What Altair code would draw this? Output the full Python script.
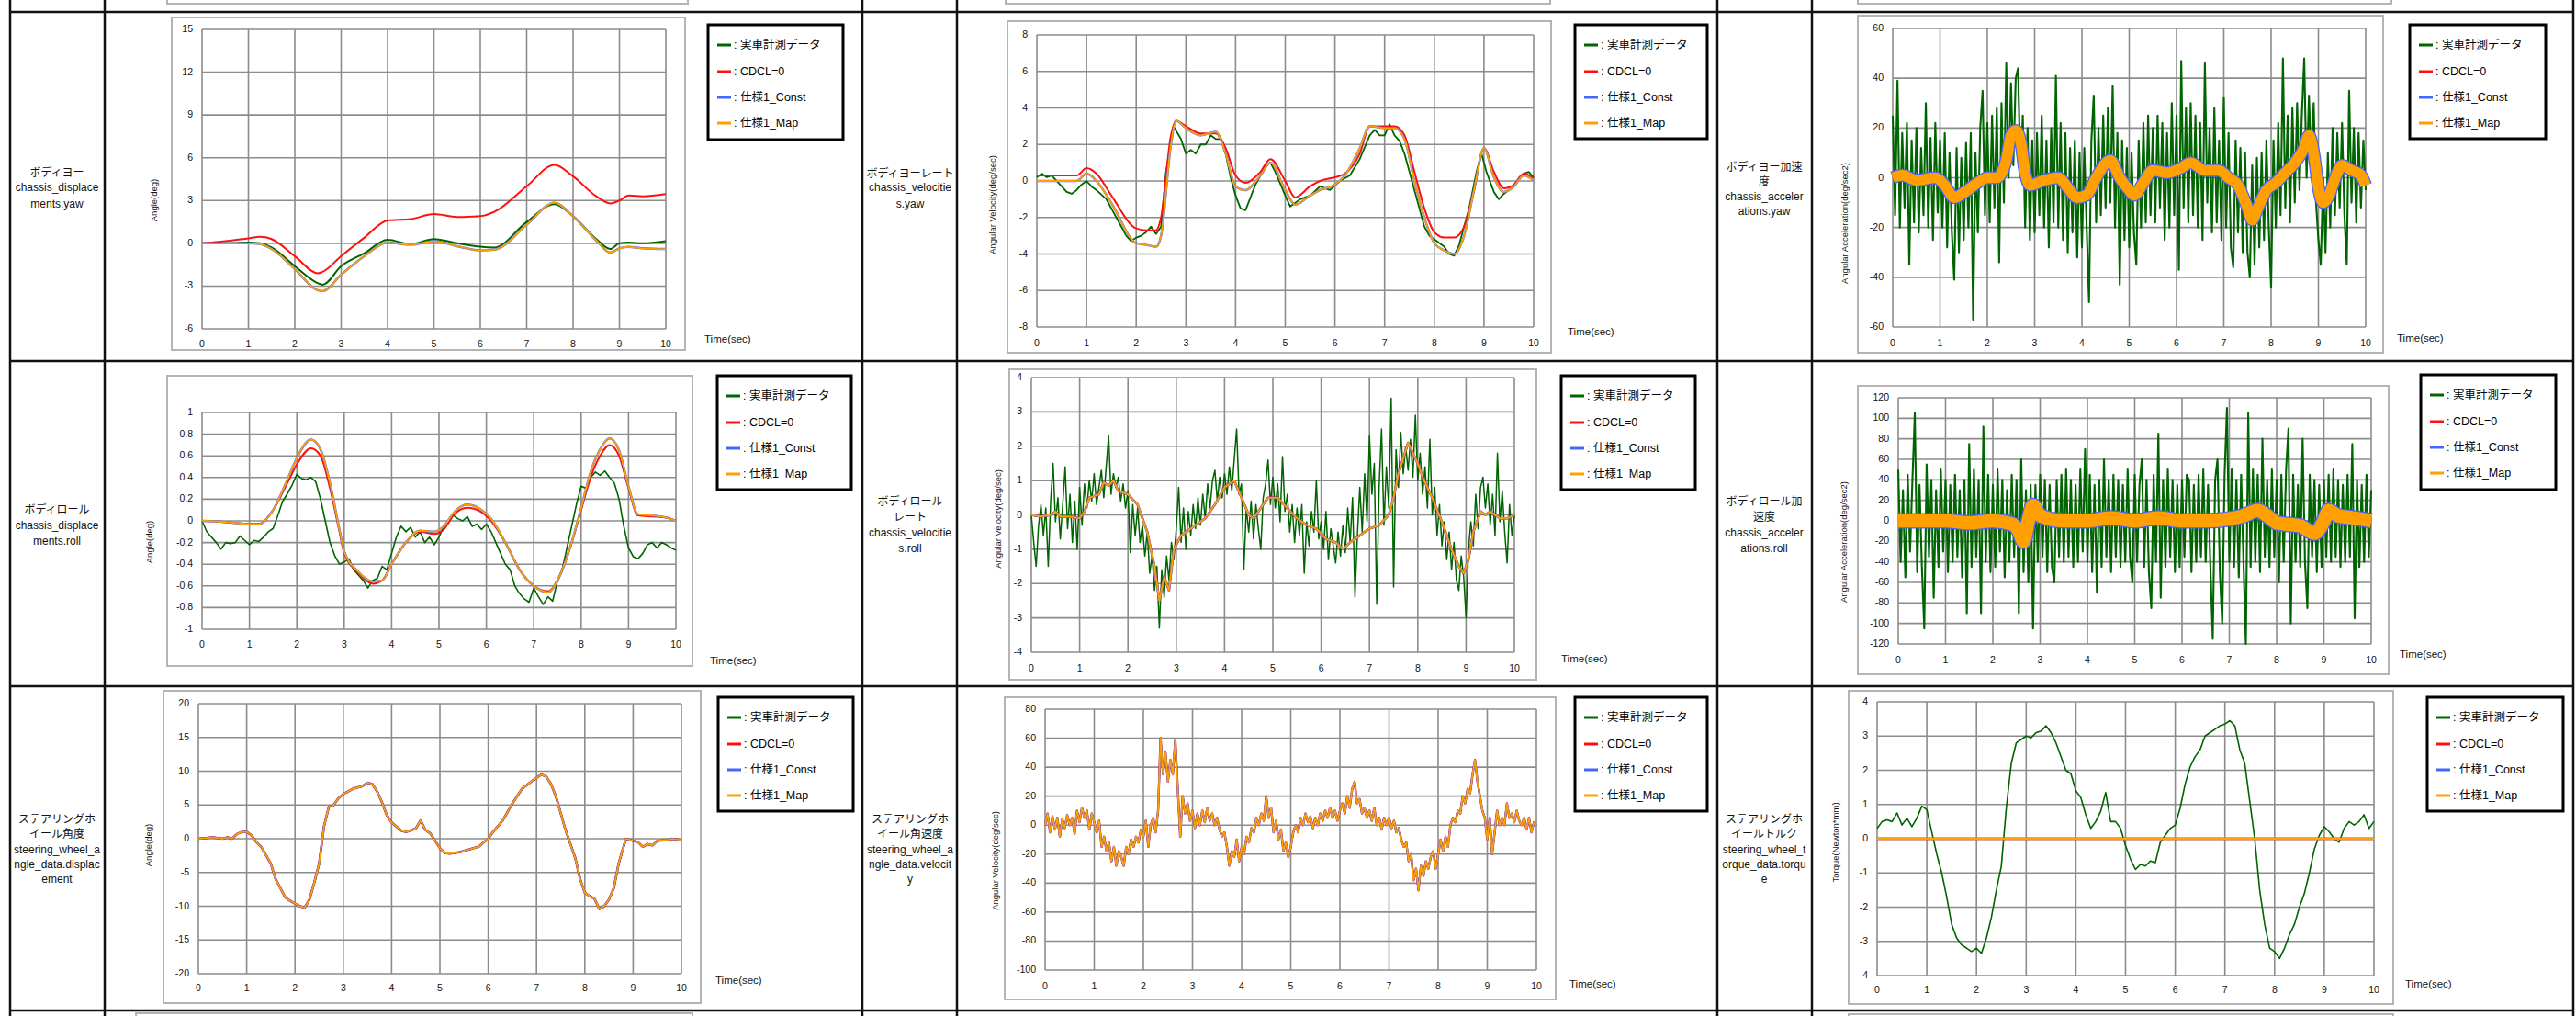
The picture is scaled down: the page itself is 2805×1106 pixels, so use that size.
import altair as alt
import numpy as np
import pandas as pd

# ======================= DATA =======================
X_TICKS = [0, 1, 2, 3, 4, 5, 6, 7, 8, 9, 10]
LEGEND_LABELS = ["実車計測データ", "CDCL=0", "仕様1_Const", "仕様1_Map"]
TIME_LABEL = "Time(sec)"

Y_TICKS = {
    "p11": [-6, -3, 0, 3, 6, 9, 12, 15],
    "p12": [-8, -6, -4, -2, 0, 2, 4, 6, 8],
    "p13": [-60, -40, -20, 0, 20, 40, 60],
    "p21": [-1, -0.8, -0.6, -0.4, -0.2, 0, 0.2, 0.4, 0.6, 0.8, 1],
    "p22": [-4, -3, -2, -1, 0, 1, 2, 3, 4],
    "p23": [-120, -100, -80, -60, -40, -20, 0, 20, 40, 60, 80, 100, 120],
    "p31": [-20, -15, -10, -5, 0, 5, 10, 15, 20],
    "p32": [-100, -80, -60, -40, -20, 0, 20, 40, 60, 80],
    "p33": [-4, -3, -2, -1, 0, 1, 2, 3, 4],
}

Y_TITLES = {
    "p11": "Angle(deg)", "p12": "Angular Velocity(deg/sec)", "p13": "Angular Acceleration(deg/sec2)",
    "p21": "Angle(deg)", "p22": "Angular Velocity(deg/sec)", "p23": "Angular Acceleration(deg/sec2)",
    "p31": "Angle(deg)", "p32": "Angular Velocity(deg/sec)", "p33": "Torque(Newton*mm)",
}

ROW_LABELS = {
    "p11": ["ボディヨー", "chassis_displace", "ments.yaw"],
    "p12": ["ボディヨーレート", "chassis_velocitie", "s.yaw"],
    "p13": ["ボディヨー加速", "度", "chassis_acceler", "ations.yaw"],
    "p21": ["ボディロール", "chassis_displace", "ments.roll"],
    "p22": ["ボディロール", "レート", "chassis_velocitie", "s.roll"],
    "p23": ["ボディロール加", "速度", "chassis_acceler", "ations.roll"],
    "p31": ["ステアリングホ", "イール角度", "steering_wheel_a", "ngle_data.displac", "ement"],
    "p32": ["ステアリングホ", "イール角速度", "steering_wheel_a", "ngle_data.velocit", "y"],
    "p33": ["ステアリングホ", "イールトルク", "steering_wheel_t", "orque_data.torqu", "e"],
}

# --- body yaw angle
T11 = [0, 0.5, 1.0, 1.25, 1.5, 2.0, 2.5, 2.6, 3.0, 3.5, 4.0, 4.5, 5.0, 5.5, 6.0, 6.3, 7.0, 7.6, 8.0, 8.5, 8.8, 9.0, 9.2, 9.5, 10.0]
G11 = [0, 0.0, 0.05, 0.0, -0.3, -1.6, -2.8, -2.9, -1.6, -0.7, 0.25, -0.06, 0.3, 0.0, -0.24, -0.3, 1.5, 2.75, 1.9, 0.3, -0.4, 0.0, 0.05, 0.0, 0.15]
R11 = [0, 0.15, 0.35, 0.45, 0.3, -0.9, -2.1, -2.0, -0.9, 0.4, 1.6, 1.7, 2.05, 1.85, 1.9, 2.2, 4.0, 5.5, 4.7, 3.3, 2.8, 3.0, 3.35, 3.3, 3.45]
O11 = [0, 0.0, 0.0, -0.05, -0.4, -1.8, -3.3, -3.35, -2.2, -0.9, 0.05, -0.1, 0.15, -0.2, -0.5, -0.45, 1.3, 2.85, 1.9, 0.2, -0.65, -0.35, -0.25, -0.35, -0.4]

# --- body yaw rate
T12 = [0, 0.5, 0.8, 1.0, 1.2, 1.5, 2.0, 2.2, 2.4, 2.5, 2.7, 2.8, 3.0, 3.3, 3.6, 3.8, 4.0, 4.2, 4.5, 4.7, 5.0, 5.2,
       5.5, 5.7, 6.0, 6.2, 6.5, 6.7, 7.0, 7.2, 7.4, 7.6, 7.8, 8.0, 8.2, 8.4, 8.6, 8.8, 9.0, 9.2, 9.4, 9.6, 9.8, 10]
R12 = [0.3, 0.3, 0.3, 0.7, 0.4, -0.8, -2.6, -2.7, -2.7, -2.0, 2.5, 3.3, 3.0, 2.6, 2.6, 1.8, 0.3, -0.1, 0.5, 1.2, 0.0, -0.9,
       -0.3, 0.0, 0.2, 0.4, 1.5, 3.0, 3.0, 3.0, 2.5, 0.5, -1.5, -2.8, -3.1, -3.1, -2.5, -0.5, 1.8, 0.5, -0.4, -0.2, 0.4, 0.15]
O12 = [0.0, 0.0, 0.0, 0.4, 0.0, -1.2, -3.4, -3.5, -3.6, -3.0, 2.0, 3.3, 2.9, 2.5, 2.7, 1.5, -0.3, -0.5, 0.3, 1.0, -0.5, -1.3,
       -0.8, -0.5, -0.2, 0.3, 1.8, 3.0, 2.9, 2.9, 2.3, 0.0, -2.0, -3.4, -3.8, -4.0, -3.0, -0.5, 1.8, 0.2, -0.6, -0.3, 0.3, 0.05]
TG12 = [0, 0.1, 0.2, 0.3, 0.5, 0.6, 0.7, 0.8, 0.9, 1.0, 1.1, 1.2, 1.4, 1.6, 1.8, 1.9, 2.0, 2.1, 2.2, 2.3, 2.4, 2.5, 2.6,
        2.75, 2.9, 3.0, 3.1, 3.2, 3.3, 3.4, 3.5, 3.6, 3.7, 3.8, 3.9, 4.0, 4.1, 4.2, 4.4, 4.6, 4.7, 4.8, 5.0, 5.1, 5.3,
        5.5, 5.7, 5.9, 6.1, 6.3, 6.5, 6.7, 6.8, 6.9, 7.0, 7.1, 7.2, 7.3, 7.4, 7.5, 7.6, 7.8, 7.9, 8.0, 8.2, 8.3, 8.4,
        8.5, 8.7, 8.85, 8.95, 9.05, 9.2, 9.3, 9.4, 9.6, 9.8, 9.9, 10]
G12 = [0.2, 0.4, 0.2, 0.3, -0.3, -0.6, -0.7, -0.5, -0.2, 0.0, -0.3, -0.5, -1.0, -2.0, -3.0, -3.3, -3.1, -3.0, -2.8,
       -2.5, -2.9, -2.5, 0.5, 3.0, 2.3, 1.5, 1.7, 1.5, 2.0, 2.0, 2.5, 2.3, 2.3, 1.5, 0.2, -0.8, -1.5, -1.6, -0.2, 0.8,
       1.0, 0.5, -0.8, -1.4, -1.0, -0.8, -0.3, -0.5, 0.0, 0.3, 1.2, 2.5, 2.8, 2.5, 2.5, 3.1, 2.5, 2.2, 1.5, 0.5, -0.5,
       -2.5, -3.0, -3.2, -3.6, -4.0, -4.1, -3.5, -1.5, 0.5, 1.5, 0.5, -0.6, -1.0, -0.7, -0.3, 0.4, 0.5, 0.2]

# --- body yaw acceleration (green sampled every 0.05 s)
G13 = [25, -15, 39, -20, 18, -12, 22, -35, 15, -18,
       20, -22, 12, -15, 30, -20, 16, -25, 22, -14,
       15, -20, 18, -28, 10, -22, -41, 12, -30, 8,
       -25, 14, -20, 18, -57, 10, -22, 20, 35, -15,
       22, -18, 25, -12, 28, -34, 30, -10, 46, 0,
       38, 5, 40, 44, 2, 25, -20, 20, -25, 15,
       -22, 18, -15, 25, -20, 15, -28, 20, -18, 41,
       -20, 22, -25, 18, -30, 12, -22, 15, -32, 10,
       -28, 12, -20, -50, 15, 33, -18, 20, -15, 25,
       -12, 28, -10, 37, -20, 18, -43, 15, -25, 12,
       -28, 10, -22, -35, 15, -20, 22, -18, 25, -15,
       20, -18, 25, -12, 22, -25, 18, -20, 30, -15,
       25, -37, 47, -12, 28, -18, 30, -15, 25, -20,
       22, -25, 46, -10, 20, -22, 28, -18, 15, -25,
       32, -20, 18, -28, -36, 15, -22, 12, -30, 10,
       -30, -40, 5, -35, 8, -28, 10, -25, 15, -20,
       -44, 15, -20, 22, -15, 48, -12, 25, -18, 28,
       -10, 30, -5, 25, 48, 0, 33, 5, 30, -10,
       -25, -35, 0, -30, 10, -20, 20, -15, 18, -12,
       22, -15, -35, 35, -10, 20, -18, 18, -12, 15, -5]
T13 = [0, 0.2, 0.5, 0.9, 1.1, 1.3, 1.5, 1.8, 2.0, 2.2, 2.4, 2.5, 2.6, 2.7, 2.8, 2.9, 3.2, 3.5, 3.7, 3.9, 4.1, 4.3,
       4.6, 4.8, 5.0, 5.1, 5.3, 5.5, 5.8, 6.1, 6.3, 6.6, 6.9, 7.1, 7.3, 7.5, 7.6, 7.7, 7.9, 8.1, 8.3, 8.5, 8.7, 8.8,
       8.9, 9.0, 9.1, 9.2, 9.4, 9.5, 9.7, 9.9, 10]
O13 = [0, 1, -1, 0, -3, -8, -6, -2, 0, 0, 7, 17, 19, 15, 2, -3, -1, 0, -4, -8, -7, 0, 7, 0, -5, -7, -2, 3, 2, 4,
       6, 3, 3, 0, -3, -12, -17, -13, -5, -2, 2, 6, 12, 17, 10, -4, -10, -8, 2, 5, 3, 1, -3]

# --- body roll angle
T21 = [0, 0.5, 1.0, 1.2, 1.5, 1.8, 2.0, 2.3, 2.5, 2.7, 2.9, 3.0, 3.3, 3.6, 3.8, 4.0, 4.3, 4.6, 4.9, 5.1, 5.3, 5.6,
       5.9, 6.1, 6.4, 6.7, 7.0, 7.3, 7.5, 7.8, 8.0, 8.2, 8.4, 8.6, 8.8, 9.0, 9.2, 9.5, 9.8, 10]
R21 = [0, -0.01, -0.03, -0.03, 0.1, 0.35, 0.52, 0.67, 0.6, 0.3, -0.1, -0.3, -0.48, -0.58, -0.55, -0.4, -0.2, -0.1,
       -0.12, -0.08, 0.05, 0.12, 0.08, 0.0, -0.2, -0.45, -0.6, -0.65, -0.55, -0.2, 0.1, 0.4, 0.6, 0.7, 0.6, 0.3,
       0.05, 0.04, 0.03, 0.0]
O21 = [0, -0.01, -0.03, -0.03, 0.1, 0.38, 0.58, 0.75, 0.66, 0.35, -0.08, -0.28, -0.47, -0.56, -0.55, -0.4, -0.2,
       -0.09, -0.1, -0.05, 0.07, 0.15, 0.1, 0.02, -0.2, -0.45, -0.6, -0.66, -0.55, -0.2, 0.12, 0.45, 0.66, 0.76,
       0.65, 0.32, 0.06, 0.05, 0.03, 0.0]
G21 = [0, -0.1, -0.15, -0.2, -0.26, -0.2, -0.21, -0.2, -0.14, -0.18,
       -0.22, -0.18, -0.19, -0.15, -0.1, -0.07, 0.05, 0.18, 0.25, 0.33,
       0.43, 0.39, 0.38, 0.4, 0.36, 0.2, 0.0, -0.2, -0.32, -0.4,
       -0.38, -0.35, -0.45, -0.5, -0.55, -0.62, -0.55, -0.53, -0.42, -0.45,
       -0.3, -0.15, -0.05, -0.1, -0.06, -0.15, -0.1, -0.2, -0.15, -0.22,
       -0.15, -0.05, -0.02, 0.05, 0.02, 0.0, 0.04, -0.05, -0.03, -0.08,
       -0.03, -0.1, -0.2, -0.3, -0.4, -0.45, -0.6, -0.67, -0.72, -0.75,
       -0.62, -0.7, -0.77, -0.7, -0.74, -0.55, -0.45, -0.25, -0.05, 0.15,
       0.32, 0.3, 0.4, 0.45, 0.42, 0.46, 0.4, 0.35, 0.2, -0.05,
       -0.25, -0.33, -0.35, -0.3, -0.22, -0.2, -0.25, -0.2, -0.22, -0.25, -0.27]

# --- body roll rate
T22 = [0, 0.2, 0.4, 0.5, 0.6, 0.8, 1.0, 1.1, 1.2, 1.4, 1.5, 1.6, 1.7, 1.8, 2.0, 2.2, 2.4, 2.55, 2.65, 2.75, 2.85,
       2.95, 3.1, 3.3, 3.5, 3.6, 3.8, 4.0, 4.2, 4.35, 4.5, 4.6, 4.75, 4.9, 5.1, 5.3, 5.5, 5.7, 5.9, 6.1, 6.3, 6.45,
       6.6, 6.8, 7.0, 7.2, 7.4, 7.5, 7.6, 7.8, 7.9, 8.0, 8.1, 8.3, 8.5, 8.7, 8.85, 8.95, 9.05, 9.15, 9.3, 9.4, 9.5,
       9.7, 9.85, 10]
O22 = [0, -0.05, 0.0, 0.1, -0.05, -0.05, -0.1, 0.1, 0.5, 0.6, 0.95, 0.85, 1.0, 0.7, 0.6, 0.3, -0.5, -1.5, -2.5,
       -1.8, -2.2, -1.0, -0.6, -0.4, -0.2, -0.1, 0.3, 0.8, 1.0, 0.5, 0.0, -0.1, 0.2, 0.5, 0.5, 0.2, -0.1, -0.3,
       -0.4, -0.7, -0.8, -1.0, -0.8, -0.6, -0.4, -0.3, 0.0, 0.5, 1.2, 2.1, 1.8, 1.5, 1.1, 0.5, -0.2, -1.0, -1.5,
       -1.7, -1.3, -0.5, 0.1, 0.0, 0.1, -0.1, -0.1, 0.0]
G22 = [0.0, -0.8, -1.5, -0.3, 0.3, -0.6, 0.2, -1.5, 0.4, 1.5,
       -0.2, 0.5, -0.7, 0.3, 1.4, -0.4, 0.6, -0.8, 0.4, -1.0,
       0.8, -0.3, 0.9, 0.2, 1.0, 0.4, 1.2, 0.3, 0.8, 1.3,
       0.5, 1.4, 2.3, 0.6, 1.2, 0.8, 1.1, 0.4, 0.9, 0.2,
       0.7, -1.1, 0.3, -0.6, 0.2, -0.8, -0.3, -1.2, -0.5, -1.7,
       -1.2, -2.2, -1.5, -3.3, -1.6, -2.4, -1.2, -1.9, -0.8, -1.3,
       -0.4, 0.8, -0.8, 0.2, -1.0, 0.1, -0.6, 0.3, -0.4, 0.5,
       -0.3, 0.6, -0.1, 0.9, 0.2, 1.0, 1.3, 0.4, 1.1, 0.5,
       1.2, 0.6, 1.4, 0.7, 1.6, 2.5, 0.6, 0.9, -1.6, 0.2,
       -0.5, 0.4, -0.7, 0.3, -0.4, -1.0, 0.5, 0.9, 1.6, 0.3,
       1.1, 0.2, 0.9, -0.2, 1.7, 0.1, 0.6, -0.5, 0.3, -0.8,
       0.2, -0.6, 0.3, -1.7, -0.2, -0.9, 0.1, -0.5, 1.0, -0.7,
       -0.2, -1.0, 0.1, -1.3, -0.4, -0.9, -1.4, -0.5, -1.2, -0.3,
       -1.1, 0.2, -0.8, 0.5, -2.4, -0.6, 0.8, -0.5, 1.2, -0.2,
       2.3, 0.6, 1.5, -2.6, 0.8, 2.5, -0.3, 1.4, 0.2, 3.4,
       -2.1, 1.9, 0.8, 2.4, 1.2, 2.0, 1.3, 2.2, 1.1, 2.9,
       1.0, 1.8, 0.6, 1.4, 0.2, 2.2, 0.0, 0.8, -0.6, 0.3,
       -0.9, -0.2, -1.3, -0.5, -1.6, -0.8, -1.9, -2.2, -1.2, -1.8,
       -3.0, -1.0, -0.2, -0.9, 0.6, -0.4, 0.8, 1.1, 0.2, 0.9,
       -0.3, 0.6, -0.6, 1.8, -0.2, 0.7, -0.5, -1.4, 0.3, -0.6, 0.0]

# --- body roll acceleration (green sampled every 0.05 s)
G23 = [50, -40, 30, -55, 45, -30, 40, 105, -50, 35,
       -45, -105, 55, -35, 40, -75, 30, -45, 50, -30,
       40, -50, 35, -40, 45, -35, 30, -55, 40, -90,
       75, -45, 50, -35, 40, -90, 92, -40, 45, -50,
       35, -45, 50, -30, 40, -55, 30, -40, 45, -35,
       40, -90, 60, -50, 30, -60, 35, -105, 35, -40,
       45, -35, 40, -50, 35, -45, -60, 40, -35, 45,
       -40, 50, -35, 40, -45, 35, -40, 50, -30, 70,
       -40, 45, -50, 35, -70, 40, -45, 60, -35, 40,
       -50, 45, -35, 40, -45, 35, -40, 50, -35, -60,
       45, -40, 35, 60, -45, 40, -50, -85, 45, -40,
       85, -75, 40, -45, 50, -35, 40, -50, 35, -45,
       40, -35, 45, 40, -50, 35, -40, 45, -35, 50,
       -40, 35, -45, -115, 40, 60, -50, -100, 45, 110,
       -40, 50, -45, 40, -55, 45, -40, -120, 105, -45,
       50, -40, 45, -50, 80, -35, 40, -45, 50, -35,
       40, -60, 45, -40, 50, 90, -100, 45, -40, 35,
       -45, 80, -40, -85, 45, -35, 40, -50, 35, -45,
       40, -35, 45, -40, 50, -35, 40, -45, 35, -40,
       45, -35, 75, -95, 40, -45, 35, -40, 45, -35, 30]
T23 = [0, 0.5, 1.0, 1.5, 2.0, 2.4, 2.55, 2.65, 2.75, 2.85, 3.0, 3.5, 4.0, 4.5, 5.0, 5.5, 6.0, 6.5, 7.0, 7.3, 7.6,
       7.8, 8.0, 8.5, 8.8, 9.0, 9.1, 9.3, 9.6, 10]
O23 = [0, 0, 0, -2, 0, -3, -10, -20, 0, 15, 5, 0, 0, 3, 0, 3, 0, 0, 2, 5, 10, 5, -2, -5, -12, 0, 10, 5, 3, 0]

# --- steering wheel angle (all four runs coincide)
T31 = [0, 0.3, 0.5, 0.6, 0.7, 0.8, 0.9, 1.0, 1.1, 1.2, 1.3, 1.5, 1.6, 1.8, 1.9, 2.0, 2.1, 2.2, 2.3, 2.4, 2.5, 2.6,
       2.7, 2.8, 2.9, 3.0, 3.2, 3.4, 3.5, 3.6, 3.7, 3.8, 3.9, 4.0, 4.2, 4.3, 4.5, 4.6, 4.7, 4.8, 5.0, 5.1, 5.2, 5.4,
       5.6, 5.8, 6.0, 6.1, 6.3, 6.5, 6.7, 6.9, 7.1, 7.2, 7.3, 7.4, 7.6, 7.8, 7.9, 8.0, 8.1, 8.2, 8.3, 8.4, 8.5, 8.6,
       8.7, 8.85, 9.0, 9.1, 9.2, 9.3, 9.4, 9.5, 9.7, 9.8, 10]
V31 = [0, 0.2, 0.0, 0.2, 0.0, 0.7, 1.0, 1.0, 0.5, -0.5, -1.2, -3.7, -6.0, -8.7, -9.2, -9.6, -10.0, -10.2, -9.0,
       -6.5, -3.7, 1.8, 4.7, 5.0, 6.0, 6.6, 7.4, 7.8, 8.3, 8.1, 7.0, 5.4, 3.5, 2.4, 1.2, 1.0, 1.5, 2.7, 1.3, 0.8,
       -1.4, -2.1, -2.2, -2.0, -1.6, -1.2, 0.0, 1.0, 2.7, 5.2, 7.4, 8.5, 9.5, 9.2, 8.1, 6.3, 1.3, -2.8, -5.9, -8.0,
       -8.5, -8.9, -10.4, -10.0, -9.0, -7.3, -3.7, 0.0, -0.3, -0.5, -1.2, -0.8, -1.0, -0.3, -0.2, 0.0, -0.2]

# --- steering wheel angular velocity (sampled every 0.05 s; all runs coincide)
O32 = [0, 8, -5, 6, -3, 5, -8, 4, -2, 7,
       0, 5, -6, 10, 2, 12, 5, 10, -3, 8,
       2, -5, 3, -15, -8, -18, -12, -25, -15, -28,
       -18, -22, -28, -15, -20, -10, -15, -8, -12, -3,
       -8, 3, -15, 0, 5, -5, 10, 60, 35, 50,
       30, 45, 35, 59, 25, -8, 20, 8, 15, 3,
       10, -2, 8, 0, 10, 2, 12, 3, 8, 0,
       5, -3, -8, -5, -15, -28, -18, -22, -10, -25,
       -15, -20, -8, -12, -2, -5, 5, 0, 8, 3,
       20, 5, 12, -5, 3, -10, -3, -18, -12, -22,
       -15, -5, 0, -5, 5, 0, 8, 2, 6, -2,
       5, 0, 8, 3, 10, 5, 12, 5, 10, 3,
       10, 15, 8, 20, 12, 25, 30, 15, 18, 8,
       12, 5, 10, 3, 12, 0, 5, -3, 5, 0,
       5, -2, 3, -5, -2, -10, -15, -12, -25, -20,
       -38, -30, -45, -28, -35, -25, -30, -22, -18, -30,
       -20, -10, -18, -8, -15, 0, 5, 2, 10, 8,
       20, 15, 25, 22, 35, 45, 30, 20, 10, 5,
       -10, 5, -20, -5, 10, 0, 5, 0, 15, 5,
       8, 2, 10, 3, 0, 5, -3, 5, -5, 2, 0]

# --- steering wheel torque (green sampled every 0.1 s); simulations stay at 0
G33 = [0.3, 0.5, 0.55, 0.5, 0.75, 0.4, 0.6, 0.35, 0.6, 0.95,
       0.85, 0.2, -0.45, -1.0, -1.7, -2.5, -2.9, -3.1, -3.2, -3.3,
       -3.2, -3.35, -2.9, -2.3, -1.5, -0.8, 0.9, 2.2, 2.8, 2.9,
       3.0, 2.95, 3.1, 3.15, 3.3, 3.1, 2.8, 2.4, 2.0, 1.9,
       1.4, 1.2, 0.7, 0.3, 0.5, 0.8, 1.35, 0.5, 0.5, 0.3,
       -0.2, -0.6, -0.9, -0.75, -0.8, -0.65, -0.7, -0.1, 0.1, 0.3,
       0.4, 0.9, 1.6, 2.1, 2.4, 2.6, 3.0, 3.1, 3.2, 3.3,
       3.35, 3.45, 3.3, 2.6, 2.2, 1.1, 0.0, -1.5, -2.5, -3.2,
       -3.3, -3.5, -3.2, -2.8, -2.5, -2.0, -1.6, -1.0, -0.3, 0.1,
       0.35, 0.2, 0.0, -0.1, 0.3, 0.5, 0.4, 0.5, 0.7, 0.3, 0.5]
T33_FLAT = [0, 10]
V33_FLAT = [0, 0]

# ======================= STYLE / LAYOUT =======================
COLORS = ["#006400", "#ff1010", "#4466ff", "#ffa000"]   # green, red, blue, orange
GRID = "#8c8c8c"
FRAME = "#b4b4b4"
FONT_NUM = "'Liberation Sans', Arial, sans-serif"
FONT_JP = "'Liberation Sans', 'Noto Sans CJK JP', sans-serif"

LAYOUT = {
    "p11": dict(plot=(220, 725, 32, 358), dom=(-6, 15), frame=(187, 19, 746, 381), legend=(771, 27, 918, 152),
                xlab_y=375, ytitle=(168, 218), time=(767, 370), rl_x=62, rl_y=[188, 204, 222]),
    "p12": dict(plot=(1129, 1670, 38, 356), dom=(-8, 8), frame=(1097, 23, 1689, 384), legend=(1715, 27, 1859, 151),
                xlab_y=374, ytitle=(1081, 223), time=(1707, 362), rl_x=991, rl_y=[189, 204, 222]),
    "p13": dict(plot=(2061, 2576, 31, 356), dom=(-60, 60), frame=(2023, 17, 2595, 384), legend=(2624, 27, 2772, 151),
                xlab_y=374, ytitle=(2009, 243), time=(2610, 369), rl_x=1921, rl_y=[182, 198, 214, 230]),
    "p21": dict(plot=(220, 736, 449, 685), dom=(-1, 1), frame=(182, 409, 754, 725), legend=(781, 409, 927, 533),
                xlab_y=702, ytitle=(163, 590), time=(773, 720), rl_x=62, rl_y=[555, 572, 589]),
    "p22": dict(plot=(1123, 1649, 411, 710), dom=(-4, 4), frame=(1099, 402, 1673, 740), legend=(1700, 409, 1846, 533),
                xlab_y=728, ytitle=(1087, 565), time=(1700, 718), rl_x=991, rl_y=[546, 563, 580, 597]),
    "p23": dict(plot=(2067, 2582, 433, 701), dom=(-120, 120), frame=(2023, 420, 2601, 734), legend=(2636, 408, 2783, 533),
                xlab_y=719, ytitle=(2008, 590), time=(2613, 713), rl_x=1921, rl_y=[546, 563, 580, 597]),
    "p31": dict(plot=(216, 742, 766, 1060), dom=(-20, 20), frame=(178, 752, 763, 1092), legend=(782, 759, 929, 883),
                xlab_y=1076, ytitle=(162, 920), time=(779, 1068), rl_x=62, rl_y=[892, 908, 925, 941, 957]),
    "p32": dict(plot=(1138, 1673, 772, 1056), dom=(-100, 80), frame=(1094, 759, 1694, 1088), legend=(1715, 759, 1859, 883),
                xlab_y=1074, ytitle=(1084, 937), time=(1709, 1072), rl_x=991, rl_y=[892, 908, 925, 941, 957]),
    "p33": dict(plot=(2044, 2585, 764, 1062), dom=(-4, 4), frame=(2013, 752, 2606, 1093), legend=(2643, 759, 2791, 883),
                xlab_y=1078, ytitle=(1999, 917), time=(2619, 1072), rl_x=1921, rl_y=[892, 908, 925, 941, 957]),
}


def dense(v):
    return list(np.linspace(0, 10, len(v))), v


# series: (colour index, t, v, stroke width, interpolate)
SERIES = {
    "p11": [(0, T11, G11, 2, "monotone"), (1, T11, R11, 2, "monotone"), (2, T11, O11, 2.4, "monotone"), (3, T11, O11, 1.8, "monotone")],
    "p12": [(0, TG12, G12, 1.8, "linear"), (1, T12, R12, 2, "monotone"), (2, T12, O12, 2.4, "monotone"), (3, T12, O12, 1.8, "monotone")],
    "p13": [(0, *dense(G13), 2.1, "linear"), (1, T13, O13, 13, "monotone"), (2, T13, O13, 14, "monotone"), (3, T13, O13, 11.5, "monotone")],
    "p21": [(0, list(np.linspace(0, 10, len(G21))), G21, 1.6, "linear"), (1, T21, R21, 2, "monotone"), (2, T21, O21, 2.4, "monotone"), (3, T21, O21, 1.8, "monotone")],
    "p22": [(0, *dense(G22), 1.5, "linear"), (1, T22, O22, 2.6, "linear"), (2, T22, O22, 2.3, "linear"), (3, T22, O22, 1.8, "linear")],
    "p23": [(0, *dense(G23), 2.1, "linear"), (1, T23, O23, 16, "monotone"), (2, T23, O23, 17, "monotone"), (3, T23, O23, 14.5, "monotone")],
    "p31": [(0, T31, V31, 2, "linear"), (1, T31, V31, 2.6, "linear"), (2, T31, V31, 2.2, "linear"), (3, T31, V31, 1.7, "linear")],
    "p32": [(0, *dense(O32), 1.5, "linear"), (1, *dense(O32), 2.4, "linear"), (2, *dense(O32), 2.1, "linear"), (3, *dense(O32), 1.7, "linear")],
    "p33": [(0, list(np.linspace(0, 10, len(G33))), G33, 1.6, "linear"), (1, T33_FLAT, V33_FLAT, 2.5, "linear"),
            (2, T33_FLAT, V33_FLAT, 2.5, "linear"), (3, T33_FLAT, V33_FLAT, 2.5, "linear")],
}


def fmt(v):
    r = round(float(v), 1)
    if abs(r - round(r)) < 1e-9:
        return str(int(round(r)))
    return f"{r:.1f}"


def sdf(t, v):
    n = min(len(t), len(v))
    return pd.DataFrame({"t": [float(a) for a in t[:n]], "v": [float(b) for b in v[:n]]})


layers = []

# ---- background frames (outer chart boxes and partial neighbours) ----
frames = [LAYOUT[k]["frame"] for k in LAYOUT]
frames += [(182, -10, 749, 4), (1095, -10, 1688, 4), (2023, -10, 2604, 4),
           (148, 1103, 754, 1120), (2013, 1104, 2606, 1120)]
fr_df = pd.DataFrame(frames, columns=["x", "y", "x2", "y2"])
layers.append(alt.Chart(fr_df).mark_rect(fill="white", stroke=FRAME, strokeWidth=2).encode(
    x=alt.X("x:Q", scale=None, axis=None), x2="x2:Q",
    y=alt.Y("y:Q", scale=None, axis=None), y2="y2:Q"))

# ---- table lines ----
tl = []
for yy in [13, 393, 747, 1100]:
    tl.append((11, yy, 2802, yy))
for xx in [11, 114, 939, 1042, 1870, 1973, 2802]:
    tl.append((xx, 0, xx, 1106))
tl_df = pd.DataFrame(tl, columns=["x", "y", "x2", "y2"])
layers.append(alt.Chart(tl_df).mark_rule(color="#111111", strokeWidth=2.5).encode(
    x=alt.X("x:Q", scale=None, axis=None), x2="x2:Q",
    y=alt.Y("y:Q", scale=None, axis=None), y2="y2:Q"))

# ---- panels ----
for key, lay in LAYOUT.items():
    x0, x1, yt, yb = lay["plot"]
    ymin, ymax = lay["dom"]
    xsc = alt.Scale(domain=[0, 10], range=[x0, x1], nice=False, zero=False)
    ysc = alt.Scale(domain=[ymin, ymax], range=[yb, yt], nice=False, zero=False)

    xt = pd.DataFrame({"t": X_TICKS, "lab": [fmt(v) for v in X_TICKS]})
    yt_df = pd.DataFrame({"v": Y_TICKS[key], "lab": [fmt(v) for v in Y_TICKS[key]]})

    layers.append(alt.Chart(xt).mark_rule(color=GRID, strokeWidth=1.6).encode(
        x=alt.X("t:Q", scale=xsc, axis=None), y=alt.value(yt), y2=alt.value(yb)))
    layers.append(alt.Chart(yt_df).mark_rule(color=GRID, strokeWidth=1.6).encode(
        y=alt.Y("v:Q", scale=ysc, axis=None), x=alt.value(x0), x2=alt.value(x1)))

    for ci, t, v, w, interp in SERIES[key]:
        layers.append(alt.Chart(sdf(t, v)).mark_line(
            color=COLORS[ci], strokeWidth=w, interpolate=interp, strokeJoin="round", strokeCap="butt").encode(
            x=alt.X("t:Q", scale=xsc, axis=None), y=alt.Y("v:Q", scale=ysc, axis=None), order="t:Q"))

    layers.append(alt.Chart(xt).mark_text(font=FONT_NUM, fontSize=10.5, color="#111", align="center",
                                          baseline="middle").encode(
        x=alt.X("t:Q", scale=xsc, axis=None), y=alt.value(lay["xlab_y"]), text="lab:N"))
    layers.append(alt.Chart(yt_df).mark_text(font=FONT_NUM, fontSize=10.5, color="#111", align="right",
                                             baseline="middle").encode(
        y=alt.Y("v:Q", scale=ysc, axis=None), x=alt.value(x0 - 10), text="lab:N"))

# ---- legends ----
OFFS = [22, 51, 79, 107]
lb = pd.DataFrame([LAYOUT[k]["legend"] for k in LAYOUT], columns=["x", "y", "x2", "y2"])
layers.append(alt.Chart(lb).mark_rect(fill="white", stroke="#000000", strokeWidth=3).encode(
    x=alt.X("x:Q", scale=None, axis=None), x2="x2:Q",
    y=alt.Y("y:Q", scale=None, axis=None), y2="y2:Q"))
sym, txt = [], []
for k in LAYOUT:
    lx, ly, _, _ = LAYOUT[k]["legend"]
    for i, lab in enumerate(LEGEND_LABELS):
        sym.append(dict(x=lx + 10, x2=lx + 25, y=ly + OFFS[i], c=COLORS[i]))
        txt.append(dict(px=lx + 28, py=ly + OFFS[i], txt=": " + lab))
layers.append(alt.Chart(pd.DataFrame(sym)).mark_rule(strokeWidth=3).encode(
    x=alt.X("x:Q", scale=None, axis=None), x2="x2:Q",
    y=alt.Y("y:Q", scale=None, axis=None), color=alt.Color("c:N", scale=None)))
layers.append(alt.Chart(pd.DataFrame(txt)).mark_text(font=FONT_JP, fontSize=12.5, color="#000", align="left",
                                                     baseline="middle").encode(
    x=alt.X("px:Q", scale=None, axis=None), y=alt.Y("py:Q", scale=None, axis=None), text="txt:N"))

# ---- axis titles ----
yt_rows = [dict(px=LAYOUT[k]["ytitle"][0], py=LAYOUT[k]["ytitle"][1], txt=Y_TITLES[k]) for k in LAYOUT]
layers.append(alt.Chart(pd.DataFrame(yt_rows)).mark_text(font=FONT_NUM, fontSize=9.5, color="#111", angle=270,
                                                         align="center", baseline="middle").encode(
    x=alt.X("px:Q", scale=None, axis=None), y=alt.Y("py:Q", scale=None, axis=None), text="txt:N"))
tm_rows = [dict(px=LAYOUT[k]["time"][0], py=LAYOUT[k]["time"][1], txt=TIME_LABEL) for k in LAYOUT]
layers.append(alt.Chart(pd.DataFrame(tm_rows)).mark_text(font=FONT_NUM, fontSize=11.5, color="#111", align="left",
                                                         baseline="middle").encode(
    x=alt.X("px:Q", scale=None, axis=None), y=alt.Y("py:Q", scale=None, axis=None), text="txt:N"))

# ---- row labels ----
rl_rows = []
for k in LAYOUT:
    for line, yy in zip(ROW_LABELS[k], LAYOUT[k]["rl_y"]):
        rl_rows.append(dict(px=LAYOUT[k]["rl_x"], py=yy, txt=line))
layers.append(alt.Chart(pd.DataFrame(rl_rows)).mark_text(font=FONT_JP, fontSize=12, color="#111", align="center",
                                                         baseline="middle").encode(
    x=alt.X("px:Q", scale=None, axis=None), y=alt.Y("py:Q", scale=None, axis=None), text="txt:N"))

chart = alt.layer(*layers).resolve_scale(x="independent", y="independent").properties(
    width=2805, height=1106, padding=0, background="white",
    autosize=alt.AutoSizeParams(type="none"),
).configure_view(stroke=None)

chart.save("out.html", embed_options={"renderer": "svg", "actions": False})
